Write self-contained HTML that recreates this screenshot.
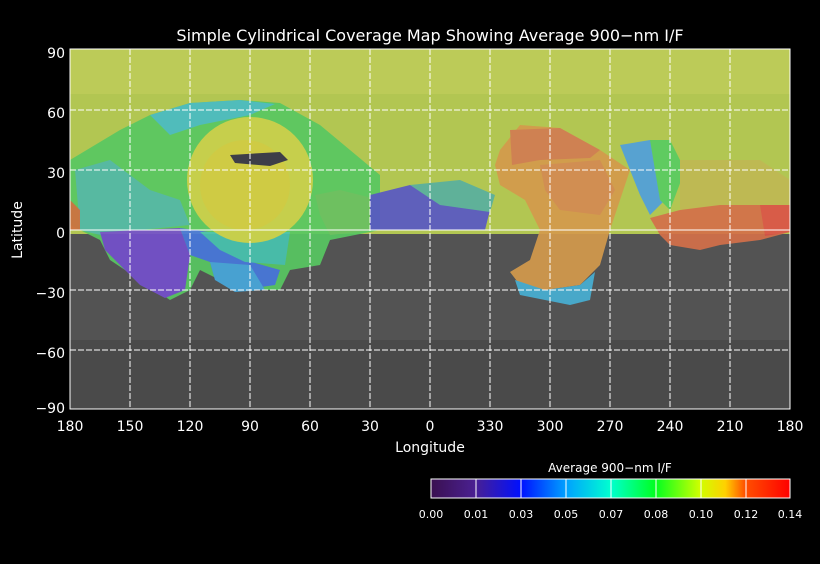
<!DOCTYPE html><html><head><style>body{margin:0;background:#000;width:820px;height:560px;overflow:hidden;font-family:"DejaVu Sans","Liberation Sans",sans-serif}</style></head><body>
<svg width="820" height="560" xmlns="http://www.w3.org/2000/svg" font-family="DejaVu Sans, Liberation Sans, sans-serif" fill="#fff">
<rect width="820" height="560" fill="#000"/>
<defs>
<clipPath id="c"><rect x="70" y="49" width="720" height="360"/></clipPath>
<linearGradient id="cb" x1="0" x2="1"><stop offset="0" stop-color="#3a1050"/><stop offset=".12" stop-color="#4a2090"/><stop offset=".25" stop-color="#0010ff"/><stop offset=".375" stop-color="#00a0ff"/><stop offset=".5" stop-color="#00ffd0"/><stop offset=".625" stop-color="#00ff20"/><stop offset=".75" stop-color="#d0ff00"/><stop offset=".82" stop-color="#ffd000"/><stop offset=".875" stop-color="#ff5000"/><stop offset="1" stop-color="#ff0000"/></linearGradient>
</defs>
<g clip-path="url(#c)">
<rect x="70" y="49" width="720" height="360" fill="#535353"/>
<rect x="70" y="340" width="720" height="69" fill="#4a4a4a"/>
<rect x="70" y="49" width="720" height="185" fill="#b2c652"/>
<rect x="70" y="49" width="720" height="45" fill="#bccb58"/>
<g opacity="0.92">
<path d="M70,160 L120,130 L150,115 L190,103 L240,100 L280,103 L320,125 L350,150 L380,175 L380,230 L330,240 L320,265 L290,270 L280,290 L240,290 L200,270 L190,290 L170,300 L140,280 L110,260 L100,240 L80,230 L70,225Z" fill="#58c862"/>
<path d="M150,115 L190,103 L240,100 L275,104 L250,115 L200,125 L170,135Z" fill="#48bcc4"/>
<path d="M75,170 L110,160 L150,190 L180,200 L190,225 L140,230 L100,235 L80,230Z" fill="#50b8a8"/>
<path d="M100,232 L180,228 L190,255 L185,290 L165,298 L140,285 L120,265 L105,250Z" fill="#7450cc"/>
<path d="M180,228 L230,235 L245,260 L280,270 L275,285 L240,290 L215,280 L210,262 L190,255Z" fill="#4878dc"/>
<path d="M210,262 L250,265 L265,290 L235,292 L215,280Z" fill="#48a8dc"/>
<path d="M200,232 L290,232 L285,265 L245,262 L220,250Z" fill="#48c4b0"/>
</g>
<circle cx="250" cy="180" r="63" fill="#c6cf4c"/>
<circle cx="245" cy="185" r="45" fill="#cfcb44"/>
<path d="M230,155 L280,152 L288,160 L270,166 L235,163Z" fill="#3e3e48"/>
<g opacity="0.92">
<path d="M315,195 L340,190 L380,200 L375,230 L330,235 L320,215Z" fill="#70c060"/>
<path d="M370,195 L410,185 L440,200 L490,210 L485,230 L370,230Z" fill="#5858c4"/>
<path d="M410,185 L460,180 L495,195 L490,212 L440,205Z" fill="#58b0a0"/>
<path d="M70,200 L80,210 L80,230 L70,230Z" fill="#d07040"/>
<path d="M500,150 L520,125 L560,128 L600,150 L630,170 L620,200 L610,230 L600,265 L580,285 L545,290 L520,285 L510,272 L530,260 L540,230 L525,200 L500,185 L495,165Z" fill="#d49a4c"/>
<path d="M510,130 L560,128 L600,150 L590,158 L540,160 L512,165Z" fill="#d27c52"/>
<path d="M540,165 L600,160 L615,190 L600,215 L560,210 L545,190Z" fill="#d48a52"/>
<path d="M515,280 L545,290 L580,285 L595,272 L590,300 L570,305 L535,298 L520,295Z" fill="#48b0d4"/>
<path d="M620,145 L650,140 L670,160 L665,200 L650,215 L640,195 L632,175Z" fill="#50a0dc"/>
<path d="M650,140 L670,140 L685,170 L670,210 L660,200Z" fill="#58cc62"/>
<path d="M650,218 L680,210 L720,200 L760,205 L790,200 L790,232 L760,240 L720,245 L700,250 L670,245 L660,235Z" fill="#d4704a"/>
<path d="M760,205 L790,202 L790,232 L765,236Z" fill="#dc5448"/>
<path d="M680,160 L760,160 L790,180 L790,205 L720,205 L680,210Z" fill="#c0b854"/>
</g>
</g>
<g stroke="#fff" stroke-width="1" fill="none">
<g stroke-dasharray="6,2">
<path d="M130,49V409M190,49V409M250,49V409M310,49V409M370,49V409M430,49V409M490,49V409M550,49V409M610,49V409M670,49V409M730,49V409"/>
<path d="M70,110H790M70,170H790M70,290H790M70,350H790"/>
</g>
<path d="M70,230H790"/>
<rect x="70" y="49" width="720" height="360"/>
</g>
<g font-size="14" text-anchor="end">
<text x="65" y="58">90</text><text x="65" y="118">60</text><text x="65" y="178">30</text><text x="65" y="238">0</text><text x="65" y="298">−30</text><text x="65" y="358">−60</text><text x="65" y="413">−90</text>
</g>
<g font-size="14" text-anchor="middle">
<text x="70" y="431">180</text><text x="130" y="431">150</text><text x="190" y="431">120</text><text x="250" y="431">90</text><text x="310" y="431">60</text><text x="370" y="431">30</text><text x="430" y="431">0</text><text x="490" y="431">330</text><text x="550" y="431">300</text><text x="610" y="431">270</text><text x="670" y="431">240</text><text x="730" y="431">210</text><text x="790" y="431">180</text>
<text x="430" y="452">Longitude</text>
<text x="430" y="41" font-size="16">Simple Cylindrical Coverage Map Showing Average 900−nm I/F</text>
<text x="610" y="472" font-size="12">Average 900−nm I/F</text>
</g>
<text transform="translate(22,230) rotate(-90)" font-size="14" text-anchor="middle">Latitude</text>
<rect x="431" y="479" width="359" height="19" fill="url(#cb)" stroke="#fff"/>
<g stroke="#fff"><path d="M476,479v19M521,479v19M566,479v19M611,479v19M656,479v19M701,479v19M746,479v19"/></g>
<g font-size="11" text-anchor="middle">
<text x="431" y="518">0.00</text><text x="476" y="518">0.01</text><text x="521" y="518">0.03</text><text x="566" y="518">0.05</text><text x="611" y="518">0.07</text><text x="656" y="518">0.08</text><text x="701" y="518">0.10</text><text x="746" y="518">0.12</text><text x="790" y="518">0.14</text>
</g>
</svg>
</body></html>
